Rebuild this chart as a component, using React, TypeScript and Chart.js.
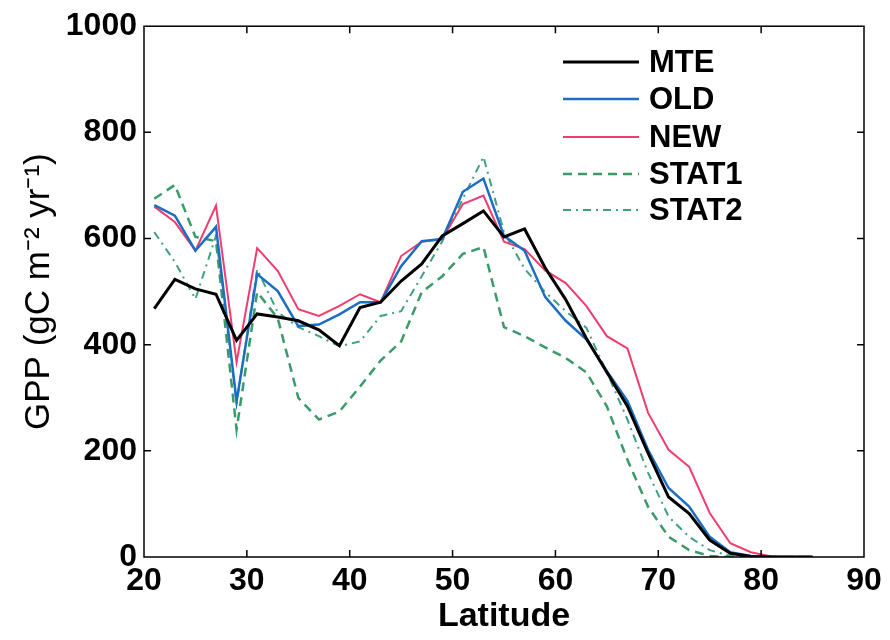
import React, { useEffect, useRef } from "react";
import { Chart, registerables } from "chart.js";

Chart.register(...registerables);

const latitudes = [21, 23, 25, 27, 29, 31, 33, 35, 37, 39, 41, 43, 45, 47, 49, 51, 53, 55, 57, 59, 61, 63, 65, 67, 69, 71, 73, 75, 77, 79, 81, 83, 85];

const mte = [468, 523, 505, 495, 408, 458, 452, 445, 428, 398, 470, 480, 520, 552, 605, 628, 652, 603, 618, 545, 485, 412, 348, 284, 196, 113, 82, 32, 7, 1, 0, 0, 0];
const oldModel = [663, 643, 577, 622, 293, 533, 501, 435, 438, 457, 480, 480, 548, 595, 599, 688, 713, 605, 577, 490, 445, 410, 350, 294, 202, 130, 95, 38, 9, 2, 0, 0, 0];
const newModel = [660, 631, 577, 662, 367, 582, 539, 467, 454, 473, 495, 480, 567, 594, 599, 665, 681, 594, 580, 540, 516, 473, 416, 393, 272, 202, 170, 83, 26, 9, 1, 0, 0];
const stat1 = [675, 701, 603, 595, 240, 499, 450, 300, 259, 274, 321, 370, 406, 499, 529, 571, 584, 433, 416, 395, 375, 348, 284, 183, 95, 38, 13, 2, 0, 0, 0, 0, 0];
const stat2 = [612, 556, 486, 605, 290, 542, 461, 433, 416, 397, 406, 454, 463, 529, 595, 675, 754, 612, 543, 499, 463, 432, 348, 259, 159, 76, 38, 13, 2, 0, 0, 0, 0];

const xTicks = [20, 30, 40, 50, 60, 70, 80, 90];
const yTicks = [0, 200, 400, 600, 800, 1000];

const seriesNames = ["MTE", "OLD", "NEW", "STAT1", "STAT2"];
const seriesColors = ["#000000", "#1b6ec2", "#f03c6e", "#3a9a69", "#3f9f7e"];
const seriesWidths = [3, 2.5, 2, 2.5, 2];
const seriesDashes: number[][] = [[], [], [], [9, 6], [8, 5, 2, 5]];
const seriesValues = [mte, oldModel, newModel, stat1, stat2];

const FONT = '"Liberation Sans", Arial, sans-serif';

const framePlugin = {
  id: "frame",
  afterDraw(chart: any) {
    const { ctx, chartArea } = chart;
    const { left, right, top, bottom } = chartArea;
    const xs = chart.scales.x;
    const ys = chart.scales.y;
    ctx.save();
    ctx.strokeStyle = "#000";
    ctx.lineWidth = 1.5;
    ctx.setLineDash([]);
    ctx.strokeRect(left, top, right - left, bottom - top);
    const tl = 7;
    ctx.beginPath();
    xTicks.slice(1, -1).forEach((v) => {
      const px = xs.getPixelForValue(v);
      ctx.moveTo(px, bottom);
      ctx.lineTo(px, bottom - tl);
      ctx.moveTo(px, top);
      ctx.lineTo(px, top + tl);
    });
    yTicks.slice(1, -1).forEach((v) => {
      const py = ys.getPixelForValue(v);
      ctx.moveTo(left, py);
      ctx.lineTo(left + tl, py);
      ctx.moveTo(right, py);
      ctx.lineTo(right - tl, py);
    });
    ctx.stroke();

    // legend inside plot
    const rowYs = [62, 99, 137, 174, 210];
    const x0 = 563;
    const x1 = 639;
    seriesNames.forEach((name, i) => {
      const y = rowYs[i];
      ctx.strokeStyle = seriesColors[i];
      ctx.lineWidth = seriesWidths[i];
      ctx.setLineDash(seriesDashes[i]);
      ctx.beginPath();
      ctx.moveTo(x0, y);
      ctx.lineTo(x1, y);
      ctx.stroke();
      ctx.setLineDash([]);
      ctx.fillStyle = "#000";
      ctx.font = `bold 31px ${FONT}`;
      ctx.textBaseline = "middle";
      ctx.textAlign = "left";
      ctx.fillText(name, 649, y + 1);
    });
    ctx.restore();
  },
};

export default function App() {
  const canvasRef = useRef<HTMLCanvasElement | null>(null);

  useEffect(() => {
    if (!canvasRef.current) return;
    const datasets = seriesNames.map((name, i) => ({
      label: name,
      data: latitudes.map((lat, j) => ({ x: lat, y: seriesValues[i][j] })),
      borderColor: seriesColors[i],
      backgroundColor: seriesColors[i],
      borderWidth: seriesWidths[i],
      borderDash: seriesDashes[i],
      pointRadius: 0,
      tension: 0,
      fill: false,
    }));

    const chart = new Chart(canvasRef.current, {
      type: "line",
      data: { datasets },
      options: {
        responsive: false,
        animation: false,
        layout: { padding: { top: 26, right: 26, bottom: 0, left: 0 } },
        plugins: {
          legend: { display: false },
          tooltip: { enabled: false },
        },
        scales: {
          x: {
            type: "linear",
            min: 20,
            max: 90,
            afterBuildTicks: (scale: any) => {
              scale.ticks = xTicks.map((v) => ({ value: v }));
            },
            afterFit: (scale: any) => {
              scale.height = 83;
            },
            grid: { display: false, drawTicks: false },
            border: { display: false },
            ticks: {
              color: "#000",
              padding: 5,
              maxRotation: 0,
              font: { family: FONT, size: 32, weight: "bold" },
              callback: (v: any) => String(v),
            },
            title: {
              display: true,
              text: "Latitude",
              color: "#000",
              font: { family: FONT, size: 34, weight: "bold" },
              padding: { top: 0, bottom: 3 },
            },
          },
          y: {
            type: "linear",
            min: 0,
            max: 1000,
            afterBuildTicks: (scale: any) => {
              scale.ticks = yTicks.map((v) => ({ value: v }));
            },
            afterFit: (scale: any) => {
              scale.width = 144;
            },
            grid: { display: false, drawTicks: false },
            border: { display: false },
            ticks: {
              color: "#000",
              padding: 7,
              font: { family: FONT, size: 32, weight: "bold" },
              callback: (v: any) => String(v),
            },
            title: {
              display: true,
              text: "GPP (gC m⁻² yr⁻¹)",
              color: "#000",
              font: { family: FONT, size: 35 },
              padding: { top: 18, bottom: 0 },
            },
          },
        },
      },
      plugins: [framePlugin],
    } as any);

    return () => chart.destroy();
  }, []);

  return (
    <div style={{ position: "absolute", left: 0, top: 0, width: 890, height: 640, background: "#fff" }}>
      <canvas ref={canvasRef} width={890} height={640} style={{ display: "block" }} />
    </div>
  );
}
